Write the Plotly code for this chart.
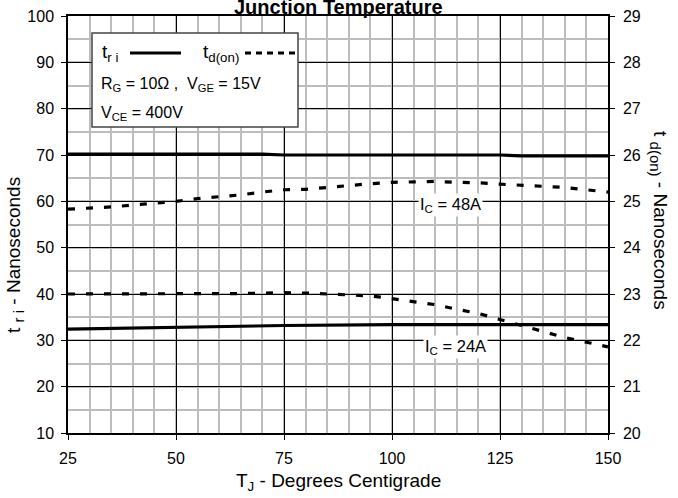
import plotly.graph_objects as go

# Junction temperature (deg C)
tj = [25, 30, 35, 40, 45, 50, 55, 60, 65, 70, 75, 80, 85, 90, 95, 100, 105, 110, 115, 120, 125, 130, 135, 140, 145, 150]

# t_ri (left axis, ns)
tri_48_x = [25, 50, 70, 75, 100, 125, 130, 150]
tri_48 = [70.2, 70.2, 70.2, 70.0, 70.0, 70.0, 69.8, 69.8]
tri_24_x = [25, 50, 75, 100, 125, 150]
tri_24 = [32.4, 32.8, 33.2, 33.4, 33.4, 33.4]

# t_d(on) (right axis, ns)
td_48 = [24.83, 24.85, 24.88, 24.92, 24.96, 25.00, 25.06, 25.10, 25.14, 25.20, 25.25, 25.26, 25.30,
         25.35, 25.38, 25.41, 25.42, 25.43, 25.41, 25.40, 25.37, 25.35, 25.33, 25.30, 25.25, 25.20]
td_24 = [23.00, 23.00, 23.00, 23.00, 23.00, 23.00, 23.00, 23.00, 23.01, 23.02, 23.03, 23.02, 23.00,
         22.98, 22.96, 22.90, 22.83, 22.77, 22.67, 22.58, 22.45, 22.32, 22.20, 22.06, 21.96, 21.86]

x_ticks = [25, 50, 75, 100, 125, 150]
y_ticks = [10, 20, 30, 40, 50, 60, 70, 80, 90, 100]
y2_ticks = [20, 21, 22, 23, 24, 25, 26, 27, 28, 29]

FONT = "Liberation Sans, Arial, sans-serif"
solid = dict(color="black", width=3.2)
dashed = dict(color="black", width=3.2, dash="7px,11px")

fig = go.Figure()
fig.add_trace(go.Scatter(x=tri_48_x, y=tri_48, mode="lines", line=solid, showlegend=False))
fig.add_trace(go.Scatter(x=tri_24_x, y=tri_24, mode="lines", line=solid, showlegend=False))
fig.add_trace(go.Scatter(x=tj, y=td_48, mode="lines", line=dashed, yaxis="y2", showlegend=False))
fig.add_trace(go.Scatter(x=tj, y=td_24, mode="lines", line=dashed, yaxis="y2", showlegend=False))

# pixel -> paper helpers (plot area 68..608 x, 16..433 y)
def px(X):
    return (X - 68) / 540.0
def py(Y):
    return (433 - Y) / 417.0

shapes = [
    dict(type="rect", xref="paper", yref="paper", x0=px(92), x1=px(298), y0=py(127), y1=py(33),
         line=dict(color="#444", width=1.5), fillcolor="white", layer="above"),
    dict(type="line", xref="paper", yref="paper", x0=px(130), x1=px(181), y0=py(53), y1=py(53),
         line=dict(color="black", width=3)),
    dict(type="line", xref="paper", yref="paper", x0=px(245), x1=px(296), y0=py(53), y1=py(53),
         line=dict(color="black", width=3, dash="6px,5px")),
]

def ann(text, x, y, size, **kw):
    d = dict(text=text, x=x, y=y, xref="paper", yref="paper", showarrow=False,
             font=dict(family=FONT, size=size, color="black"))
    d.update(kw)
    return d

SUB = '<sub><span style="font-size:15px">%s</span></sub>'

annotations = [
    ann("<b>Junction Temperature</b>", 0.5, py(13), 20, yanchor="bottom", yshift=-7),
    ann("t<sub>r i</sub>", px(100), py(53), 19, xanchor="left", yanchor="middle"),
    ann("t<sub>d(on)</sub>", px(201), py(53), 19, xanchor="left", yanchor="middle"),
    ann("R<sub>G</sub> = 10Ω ,  V<sub>GE</sub> = 15V", px(99), py(84), 16, xanchor="left", yanchor="middle"),
    ann("V<sub>CE</sub> = 400V", px(99), py(113), 16, xanchor="left", yanchor="middle"),
    dict(text="I<sub>C</sub> = 48A", x=113.5, y=59.3, xref="x", yref="y", showarrow=False,
         bgcolor="white", font=dict(family=FONT, size=16.5, color="black")),
    dict(text="I<sub>C</sub> = 24A", x=114.8, y=28.6, xref="x", yref="y", showarrow=False,
         bgcolor="white", font=dict(family=FONT, size=16.5, color="black")),
    ann("t " + SUB % "r i" + " - Nanoseconds", px(15), py(255), 19, textangle=-90,
        xanchor="center", yanchor="middle"),
    ann("t " + SUB % "d(on)" + " - Nanoseconds", px(659), py(220), 19, textangle=90,
        xanchor="center", yanchor="middle"),
    ann("T<sub>J</sub> - Degrees Centigrade", 0.5, py(482), 19, yanchor="middle"),
]

axis_common = dict(ticks="outside", ticklen=5, tickcolor="black", automargin=False,
                   zeroline=False, tickfont=dict(family=FONT, size=16, color="black"))

fig.update_layout(
    width=678, height=498,
    margin=dict(l=68, r=70, t=16, b=65, autoexpand=False),
    paper_bgcolor="white", plot_bgcolor="white",
    font=dict(family=FONT, size=16, color="black"),
    shapes=shapes, annotations=annotations,
    xaxis=dict(range=[25, 150], tickvals=x_ticks, ticklabelstandoff=5,
               showline=True, linecolor="black", linewidth=1.5, mirror=True,
               showgrid=True, gridcolor="black", gridwidth=1,
               minor=dict(dtick=5, showgrid=True, gridcolor="#bdbdbd", gridwidth=1.5, ticks=""),
               **axis_common),
    yaxis=dict(range=[10, 100], tickvals=y_ticks, ticklabelstandoff=4,
               showline=True, linecolor="black", linewidth=1.5, mirror=True,
               showgrid=True, gridcolor="black", gridwidth=1,
               minor=dict(dtick=5, showgrid=True, gridcolor="#bdbdbd", gridwidth=1.5, ticks=""),
               **axis_common),
    yaxis2=dict(range=[20, 29], tickvals=y2_ticks, overlaying="y", side="right", ticklabelstandoff=5,
                showgrid=False, showline=True, linecolor="black", linewidth=1.5,
                **axis_common),
)

fig.write_html("out.html", config={"displayModeBar": False},
               post_script="document.body.style.margin='0px';document.body.style.overflow='hidden';")
